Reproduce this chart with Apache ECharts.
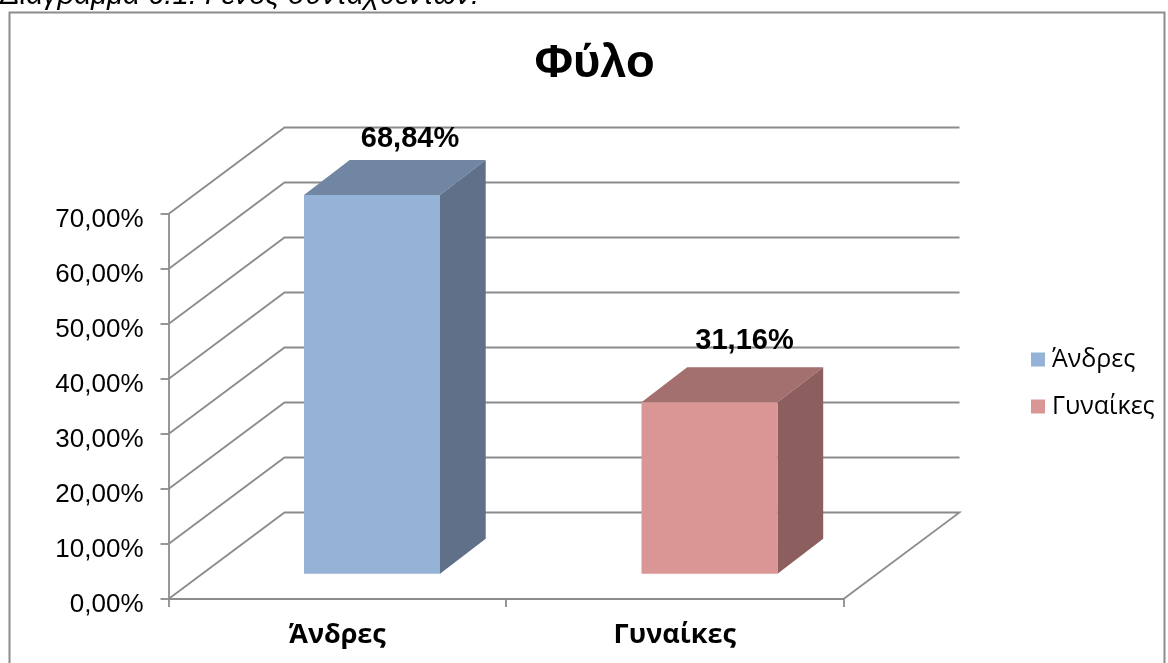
<!DOCTYPE html>
<html>
<head>
<meta charset="utf-8">
<style>html,body{margin:0;padding:0;background:#fff;overflow:hidden}#c{width:1168px;height:663px}</style>
<script src="https://cdn.jsdelivr.net/npm/echarts@6/dist/echarts.min.js"></script>
</head>
<body>
<div id="c"></div>
<script>
const categories = ['Άνδρες', 'Γυναίκες'];
const valuesMen = [68.84];
const valuesWomen = [31.16];
const yTicks = [0, 10, 20, 30, 40, 50, 60, 70];
const chartTitle = 'Φύλο';
const captionText = 'Διάγραμμα 6.1: Γένος συνταχθέντων:';

const FONT = '"Liberation Sans", Arial, sans-serif';
const FONT2 = '"Open Sans", "Liberation Sans", sans-serif';
const LINE = '#8C8C8C';
const LW = 1.8;
const fmt = v => v.toFixed(2).replace('.', ',') + '%';

// projection of the 3D box
const WALL = [116, -86.5];
const BAR_BASE = [34.75, -25.3];
const BAR_DEPTH = [45.7, -35];
const BAR_FRACTION = 0.403;

function wallItem(params, api) {
  const v = api.value(0);
  const cs = params.coordSys;
  const y = api.coord([0, v])[1];
  const x0 = cs.x, x1 = cs.x + cs.width;
  const pts = [[x0, y], [x0 + WALL[0], y + WALL[1]], [x1 + WALL[0], y + WALL[1]]];
  if (v === 0) pts.push([x1, y]);
  return {
    type: 'polyline',
    shape: { points: pts },
    style: { fill: null, stroke: LINE, lineWidth: LW },
    silent: true
  };
}

function barRenderer(catIndex, colors, labelOffset) {
  return function (params, api) {
    const v = api.value(0);
    const top = api.coord([catIndex, v]);
    const bot = api.coord([catIndex, 0]);
    const w = api.size([1, 0])[0] * BAR_FRACTION;
    const l = top[0] - w / 2 + BAR_BASE[0], r = l + w;
    const t = top[1] + BAR_BASE[1], b = bot[1] + BAR_BASE[1];
    const dx = BAR_DEPTH[0], dy = BAR_DEPTH[1];
    return {
      type: 'group',
      children: [
        { type: 'polygon', shape: { points: [[l, t], [r, t], [r + dx, t + dy], [l + dx, t + dy]] }, style: { fill: colors[1] } },
        { type: 'polygon', shape: { points: [[r, t], [r + dx, t + dy], [r + dx, b + dy], [r, b]] }, style: { fill: colors[2] } },
        { type: 'rect', shape: { x: l, y: t, width: w, height: b - t }, style: { fill: colors[0] } },
        { type: 'text', style: {
            x: (l + r) / 2 + labelOffset[0], y: t + labelOffset[1],
            text: fmt(v), font: 'bold 29px ' + FONT, fill: '#000',
            align: 'center', verticalAlign: 'middle' } }
      ]
    };
  };
}

const chart = echarts.init(document.getElementById('c'), null, { renderer: 'canvas', width: 1168, height: 663 });
chart.setOption({
  animation: false,
  backgroundColor: '#fff',
  title: {
    text: chartTitle, left: 589.5, top: 36, textAlign: 'center',
    textStyle: { fontFamily: FONT, fontWeight: 'bold', fontSize: 47, color: '#000' }
  },
  legend: {
    orient: 'vertical', left: 1031, top: 347, padding: 0, itemWidth: 14, itemHeight: 14, itemGap: 22,
    icon: 'rect',
    data: categories,
    textStyle: { fontFamily: FONT2, fontSize: 25, color: '#000', padding: [0, 0, 0, 2] }
  },
  grid: { left: 168.5, right: 324.5, top: 214, bottom: 64 },
  xAxis: {
    type: 'category', data: categories,
    axisLine: { lineStyle: { color: LINE, width: LW } },
    axisTick: { show: true, length: 8, lineStyle: { color: LINE, width: LW } },
    axisLabel: { fontFamily: FONT2, fontWeight: 'bold', fontSize: 27, color: '#000', margin: 23 }
  },
  yAxis: {
    type: 'value', min: 0, max: 70, interval: 10,
    splitLine: { show: false },
    axisLine: { show: true, lineStyle: { color: LINE, width: LW } },
    axisTick: { show: true, length: 8, lineStyle: { color: LINE, width: LW } },
    axisLabel: { fontFamily: FONT, fontSize: 26, color: '#000', margin: 25, verticalAlign: 'top', lineHeight: 12, formatter: v => fmt(v) }
  },
  graphic: [
    { type: 'rect', z: -1, shape: { x: 9.5, y: 12.5, width: 1155, height: 700 },
      style: { fill: '#fff', stroke: LINE, lineWidth: 2 }, silent: true },
    { type: 'text', z: 10, x: 0, y: 10,
      style: { text: captionText, font: 'italic 29.3px ' + FONT, fill: '#000', verticalAlign: 'bottom' }, silent: true }
  ],
  series: [
    { type: 'custom', name: 'wall', data: yTicks.map(v => [v]), renderItem: wallItem, z: 1, silent: true, encode: { y: 0 } },
    { type: 'custom', name: categories[0], data: valuesMen.map(v => [v]), encode: { y: 0 }, z: 3,
      itemStyle: { color: '#95B3D7' }, silent: true,
      renderItem: barRenderer(0, ['#95B3D7', '#7186A2', '#5F7088'], [38, -56]) },
    { type: 'custom', name: categories[1], data: valuesWomen.map(v => [v]), encode: { y: 0 }, z: 3,
      itemStyle: { color: '#D99694' }, silent: true,
      renderItem: barRenderer(1, ['#D99694', '#A3706F', '#8C5E5D'], [35, -61]) }
  ]
});
</script>
</body>
</html>
